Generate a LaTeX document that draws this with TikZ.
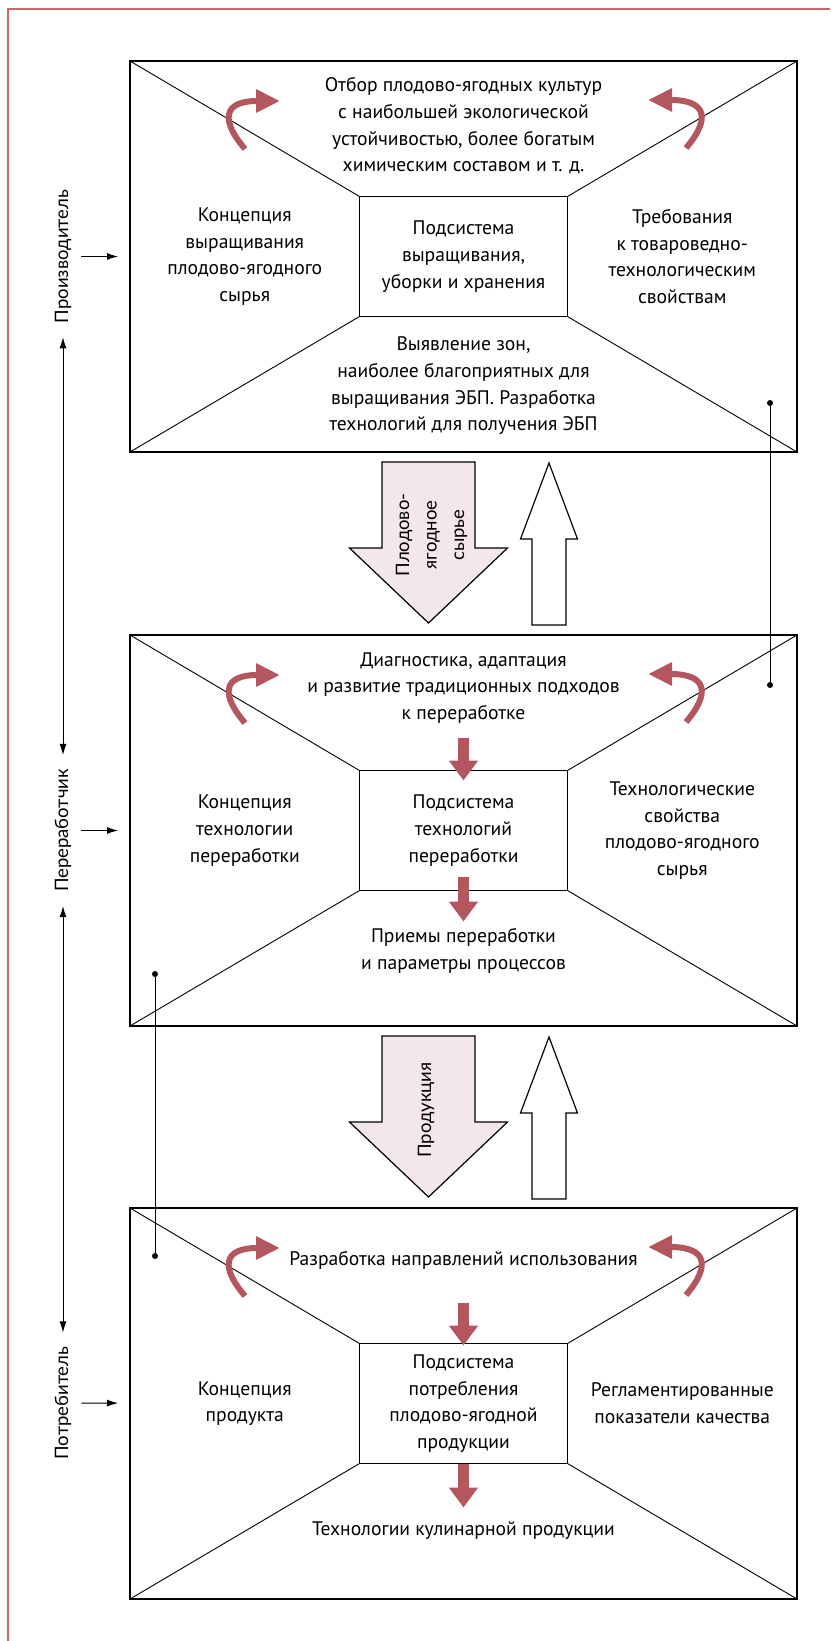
\documentclass[tikz,border=0pt]{standalone}
\usepackage{fontspec}
\setmainfont{PT Sans}
\newfontfamily\rolefont{Lato}
\usetikzlibrary{positioning,arrows.meta,calc}
\definecolor{framered}{RGB}{200,104,104}
\definecolor{turnred}{RGB}{180,86,94}
\definecolor{flowpink}{RGB}{244,231,236}
\newcommand{\cellfont}{\fontsize{19.6}{26.7}\selectfont}
\newcommand{\tagfont}{\rolefont\fontsize{18.5}{27.5}\selectfont}

\begin{document}
\begin{tikzpicture}[x=1pt, y=-1pt,
    box/.style={draw, line width=1.3pt, minimum width=667pt, minimum height=391pt, inner sep=0pt, outer sep=0pt},
    core/.style={draw, line width=1.3pt, minimum width=208pt, minimum height=120pt, inner sep=0pt, outer sep=0pt, align=center, font=\cellfont},
    txt/.style={align=center, font=\cellfont, inner sep=0pt},
    role/.style={rotate=90, align=center, font=\tagfont, inner sep=3pt},
    diag/.style={line width=0.9pt},
    turn/.style={draw=turnred, line width=6pt, -{Triangle[length=24pt,width=22pt]}},
    push/.style={draw=turnred, line width=11pt, -{Triangle[length=20pt,width=28pt]}},
    link/.style={line width=1pt, {Latex[length=11pt,width=7pt]}-{Latex[length=11pt,width=7pt]}, shorten <=11pt, shorten >=11pt},
    feed/.style={line width=1pt, -{Latex[length=11pt,width=7pt]}},
    dot/.style={fill, circle, inner sep=0pt, minimum size=6pt},
    flow/.style={draw, line width=1.2pt, fill=flowpink},
    back/.style={draw, line width=1.2pt, fill=white}]

    \useasboundingbox (0,0) rectangle (830,1641);
    \draw[framered, line width=1.2pt] (8,1641) -- (8,9) -- (830,9);

    % three levels
    \node[box] (grow) at (463.5,256.5) {};
    \node[box, below=183pt of grow] (proc) {};
    \node[box, below=182pt of proc] (use) {};

    \node[core] (growcore) at (grow) {Подсистема\\выращивания,\\уборки и хранения};
    \node[core] (proccore) at (proc) {Подсистема\\технологий\\переработки};
    \node[core] (usecore) at (use) {Подсистема\\потребления\\плодово-ягодной\\продукции};

    \foreach \bx in {grow,proc,use}
        \foreach \cn in {north west,north east,south west,south east}
            \draw[diag] (\bx.\cn) -- (\bx core.\cn);

    % texts of the top level
    \node[txt] (growtop) at ([yshift=-65pt]grow.north) {Отбор плодово-ягодных культур\\с наибольшей экологической\\устойчивостью, более богатым\\химическим составом и т. д.};
    \node[txt] (growleft) at ($(grow.west)!0.5!(growcore.west)$) {Концепция\\выращивания\\плодово-ягодного\\сырья};
    \node[txt] (growright) at ($(growcore.east)!0.5!(grow.east)$) {Требования\\к товароведно-\\технологическим\\свойствам};
    \node[txt] (growbottom) at ([yshift=66pt]grow.south) {Выявление зон,\\наиболее благоприятных для\\выращивания ЭБП. Разработка\\технологий для получения ЭБП};

    % texts of the middle level
    \node[txt] (proctop) at ([yshift=-53pt]proc.north) {Диагностика, адаптация\\и развитие традиционных подходов\\к переработке};
    \node[txt] (procleft) at ($(proc.west)!0.5!(proccore.west)$) {Концепция\\технологии\\переработки};
    \node[txt] (procright) at ($(proccore.east)!0.5!(proc.east)$) {Технологические\\свойства\\плодово-ягодного\\сырья};
    \node[txt] (procbottom) at ([yshift=75pt]proc.south) {Приемы переработки\\и параметры процессов};

    % texts of the bottom level
    \node[txt] (usetop) at ([yshift=-52pt]use.north) {Разработка направлений использования};
    \node[txt] (useleft) at ($(use.west)!0.5!(usecore.west)$) {Концепция\\продукта};
    \node[txt] (useright) at ($(usecore.east)!0.5!(use.east)$) {Регламентированные\\показатели качества};
    \node[txt] (usebottom) at ([yshift=68pt]use.south) {Технологии кулинарной продукции};

    % red turns and pushes
    \foreach \bx in {grow,proc,use} {
        \draw[turn] ([shift={(115pt,-88pt)}]\bx.north west) .. controls +(-24pt,28pt) and +(-58pt,0pt) .. +(35pt,48pt);
        \draw[turn] ([shift={(-111pt,-87pt)}]\bx.north east) .. controls +(24pt,28pt) and +(60pt,0pt) .. +(-38pt,48pt);
    }
    \draw[push] ([yshift=33pt]proccore.north) -- ([yshift=-10pt]proccore.north);
    \draw[push] ([yshift=14pt]proccore.south) -- ([yshift=-31pt]proccore.south);
    \draw[push] ([yshift=41pt]usecore.north) -- ([yshift=-2pt]usecore.north);
    \draw[push] (usecore.south) -- ([yshift=-44pt]usecore.south);

    % block arrows between levels
    \coordinate (fall1) at ([xshift=-35pt]grow.south);
    \coordinate (rise1) at ([xshift=85.5pt]grow.south);
    \coordinate (fall2) at ([xshift=-35pt]proc.south);
    \coordinate (rise2) at ([xshift=85.5pt]proc.south);

    \draw[flow] ([shift={(-46.5pt,-10pt)}]fall1) -- ++(93pt,0pt) -- ++(0pt,-86pt) -- ++(32.5pt,0pt) -- ++(-79pt,-75pt) -- ++(-79pt,75pt) -- ++(32.5pt,0pt) -- cycle;
    \draw[back] ([shift={(-17pt,-173pt)}]rise1) -- ++(34pt,0pt) -- ++(0pt,86pt) -- ++(11.5pt,0pt) -- ++(-28.5pt,76pt) -- ++(-28.5pt,-76pt) -- ++(11.5pt,0pt) -- cycle;
    \node[role] (raw) at ([shift={(3pt,-83pt)}]fall1) {Плодово-\\ягодное\\сырье};

    \draw[flow] ([shift={(-46.5pt,-10pt)}]fall2) -- ++(93pt,0pt) -- ++(0pt,-86pt) -- ++(32.5pt,0pt) -- ++(-79pt,-75pt) -- ++(-79pt,75pt) -- ++(32.5pt,0pt) -- cycle;
    \draw[back] ([shift={(-17pt,-173pt)}]rise2) -- ++(34pt,0pt) -- ++(0pt,86pt) -- ++(11.5pt,0pt) -- ++(-28.5pt,76pt) -- ++(-28.5pt,-76pt) -- ++(11.5pt,0pt) -- cycle;
    \node[role] (goods) at ([shift={(-2.5pt,-84pt)}]fall2) {Продукция};

    % roles on the left
    \node[role] (maker) at (63,256.5) {Производитель};
    \node[role] (changer) at (63,830.5) {Переработчик};
    \node[role] (eater) at (63,1403) {Потребитель};

    \draw[link] (maker) -- (changer);
    \draw[link] (changer) -- (eater);
    \draw[feed, shorten <=7pt, shorten >=12pt] (maker) -- (grow);
    \draw[feed, shorten <=7pt, shorten >=12pt] (changer) -- (proc);
    \draw[feed, shorten <=7pt, shorten >=12pt] (eater) -- (use);

    % ties across levels
    \node[dot] (tieA) at (770,403) {};
    \node[dot] (tieB) at (770,685) {};
    \node[dot] (tieC) at (155,974) {};
    \node[dot] (tieD) at (155,1256) {};
    \draw[line width=1pt] (tieA) -- (tieB);
    \draw[line width=1pt] (tieC) -- (tieD);
\end{tikzpicture}
\end{document}
